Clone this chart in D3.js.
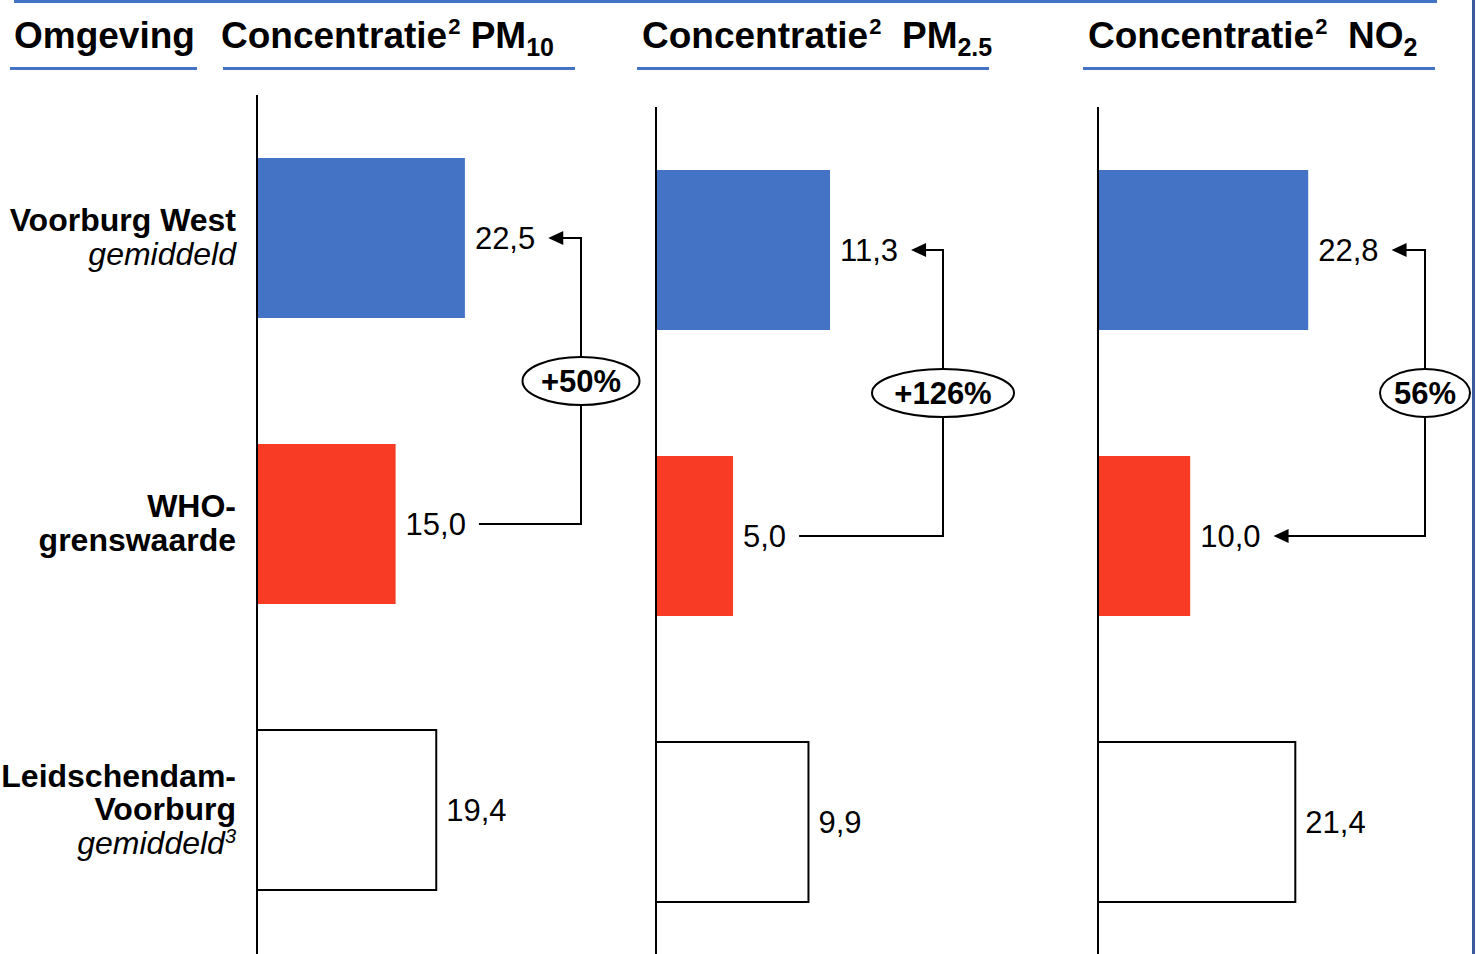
<!DOCTYPE html>
<html>
<head>
<meta charset="utf-8">
<script src="https://cdn.jsdelivr.net/npm/d3@7"></script>
<style>
  html, body { margin: 0; padding: 0; background: #fff; }
  svg { display: block; }
  text { font-family: "Liberation Sans", Arial, Helvetica, sans-serif; fill: #000; }
</style>
</head>
<body>
<svg id="chart" width="1476" height="954"></svg>
<script>
// ---- data ----
const categories = ["Voorburg West", "WHO-grenswaarde", "Leidschendam-Voorburg"];
const pm10 = [22.5, 15.0, 19.4];
const pm25 = [11.3, 5.0, 9.9];
const no2 = [22.8, 10.0, 21.4];
const changeLabels = ["+50%", "+126%", "56%"];
const valueLabels = {
  pm10: ["22,5", "15,0", "19,4"],
  pm25: ["11,3", "5,0", "9,9"],
  no2: ["22,8", "10,0", "21,4"]
};

// ---- layout ----
const svg = d3.select("#chart");
const W = 1476, H = 954;
const blue = "#4472C4", red = "#F73B25";
const fills = [blue, red, "#ffffff"];

const panels = [
  { key: "pm10", values: pm10, x0: 257, xMax: 25, pxPerUnit: 9.24, yTop: 95, arrowX: 581, headTop: true, headBottom: false, change: changeLabels[0], rx: 58.5 },
  { key: "pm25", values: pm25, x0: 656, xMax: 12, pxPerUnit: 15.4, yTop: 107, arrowX: 943, headTop: true, headBottom: false, change: changeLabels[1], rx: 71 },
  { key: "no2", values: no2, x0: 1098, xMax: 25, pxPerUnit: 9.22, yTop: 107, arrowX: 1425, headTop: true, headBottom: true, change: changeLabels[2], rx: 45 }
];

// frame lines
svg.append("rect").attr("x", 14).attr("y", 0).attr("width", 1423).attr("height", 3).attr("fill", blue);
svg.append("rect").attr("x", 1472).attr("y", 0).attr("width", 3).attr("height", H).attr("fill", "#3A5A9C");

// headers
const headerSize = 37;
function header(x, parts) {
  const t = svg.append("text").attr("x", x).attr("y", 48)
    .attr("font-size", headerSize).attr("font-weight", "bold");
  parts.forEach(p => {
    const ts = t.append("tspan").text(p.t);
    if (p.sub) ts.attr("font-size", 25).attr("dy", 8);
    if (p.sup) ts.attr("font-size", 22).attr("dy", -14).attr("dx", 1);
    if (p.reset) ts.attr("dy", p.reset);
  });
  return t;
}
header(14, [{ t: "Omgeving" }]);
header(221, [{ t: "Concentratie" }, { t: "2", sup: true }, { t: " PM", reset: 14 }, { t: "10", sub: true }]);
header(642, [{ t: "Concentratie" }, { t: "2", sup: true }, { t: "\u00A0 PM", reset: 14 }, { t: "2.5", sub: true }]);
header(1088, [{ t: "Concentratie" }, { t: "2", sup: true }, { t: "\u00A0 NO", reset: 14 }, { t: "2", sub: true }]);

const underlines = [[10, 197], [223, 575], [637, 989], [1083, 1435]];
svg.selectAll("rect.ul").data(underlines).join("rect").attr("class", "ul")
  .attr("x", d => d[0]).attr("y", 67).attr("width", d => d[1] - d[0]).attr("height", 3).attr("fill", blue);

// band scale (same step for all panels, shifted per panel)
function yScale(top) {
  return d3.scaleBand().domain(categories).range([top, top + 858]).paddingInner(0.4406).paddingOuter(0.2203);
}

// left category labels
const y1 = yScale(95);
const labelSize = 32;
const valueSize = 31;
const leftLabels = [
  [{ t: "Voorburg West", b: true }, { t: "gemiddeld", i: true }],
  [{ t: "WHO-", b: true }, { t: "grenswaarde", b: true }],
  [{ t: "Leidschendam-", b: true }, { t: "Voorburg", b: true }, { t: "gemiddeld", i: true, sup: "3" }]
];
leftLabels.forEach((lines, ci) => {
  const cy = y1(categories[ci]) + y1.bandwidth() / 2;
  const lh = 33.5;
  const firstBase = cy - (lines.length - 1) * lh / 2 + 10;
  lines.forEach((ln, li) => {
    const t = svg.append("text").attr("x", 236).attr("y", firstBase + li * lh)
      .attr("text-anchor", "end").attr("font-size", labelSize)
      .attr("font-weight", ln.b ? "bold" : "normal")
      .attr("font-style", ln.i ? "italic" : "normal");
    t.append("tspan").text(ln.t);
    if (ln.sup) t.append("tspan").attr("font-size", 20).attr("dy", -11).text(ln.sup);
  });
});

// arrowhead helper (pointing left, tip at x)
function arrowHead(x, y) {
  svg.append("path").attr("d", `M${x},${y} L${x + 15},${y - 7} L${x + 15},${y + 7} Z`).attr("fill", "#000");
}

panels.forEach(p => {
  const y = yScale(p.yTop);
  const x = d3.scaleLinear().domain([0, p.xMax]).range([p.x0, p.x0 + p.xMax * p.pxPerUnit]);

  // bars
  svg.append("g").selectAll("rect").data(p.values).join("rect")
    .attr("x", x(0))
    .attr("y", (d, i) => y(categories[i]))
    .attr("width", d => x(d) - x(0))
    .attr("height", y.bandwidth())
    .attr("fill", (d, i) => fills[i])
    .attr("stroke", (d, i) => i === 2 ? "#000" : "none")
    .attr("stroke-width", 2);

  // axis line
  svg.append("line").attr("x1", x(0)).attr("x2", x(0)).attr("y1", p.yTop).attr("y2", H)
    .attr("stroke", "#000").attr("stroke-width", 2);

  // value labels
  const labs = valueLabels[p.key];
  const ends = [];
  p.values.forEach((v, i) => {
    const cy = y(categories[i]) + y.bandwidth() / 2;
    const t = svg.append("text").attr("x", x(v) + 10).attr("y", cy).attr("dy", "0.36em")
      .attr("font-size", valueSize).text(labs[i]);
    ends.push({ x: x(v) + 10 + t.node().getComputedTextLength(), y: cy });
  });

  // change annotation between category 0 and 1
  const top = ends[0], bot = ends[1];
  const ax = p.arrowX;
  const topStart = top.x + 13, botStart = bot.x + 13;
  svg.append("path")
    .attr("d", `M${topStart + (p.headTop ? 12 : 0)},${top.y} H${ax} V${bot.y} H${botStart + (p.headBottom ? 12 : 0)}`)
    .attr("fill", "none").attr("stroke", "#000").attr("stroke-width", 2);
  if (p.headTop) arrowHead(topStart, top.y);
  if (p.headBottom) arrowHead(botStart, bot.y);

  const cy = (top.y + bot.y) / 2;
  svg.append("ellipse").attr("cx", ax).attr("cy", cy).attr("rx", p.rx).attr("ry", 24)
    .attr("fill", "#fff").attr("stroke", "#000").attr("stroke-width", 2);
  svg.append("text").attr("x", ax).attr("y", cy).attr("dy", "0.36em").attr("text-anchor", "middle")
    .attr("font-size", valueSize).attr("font-weight", "bold").text(p.change);
});
</script>
</body>
</html>
